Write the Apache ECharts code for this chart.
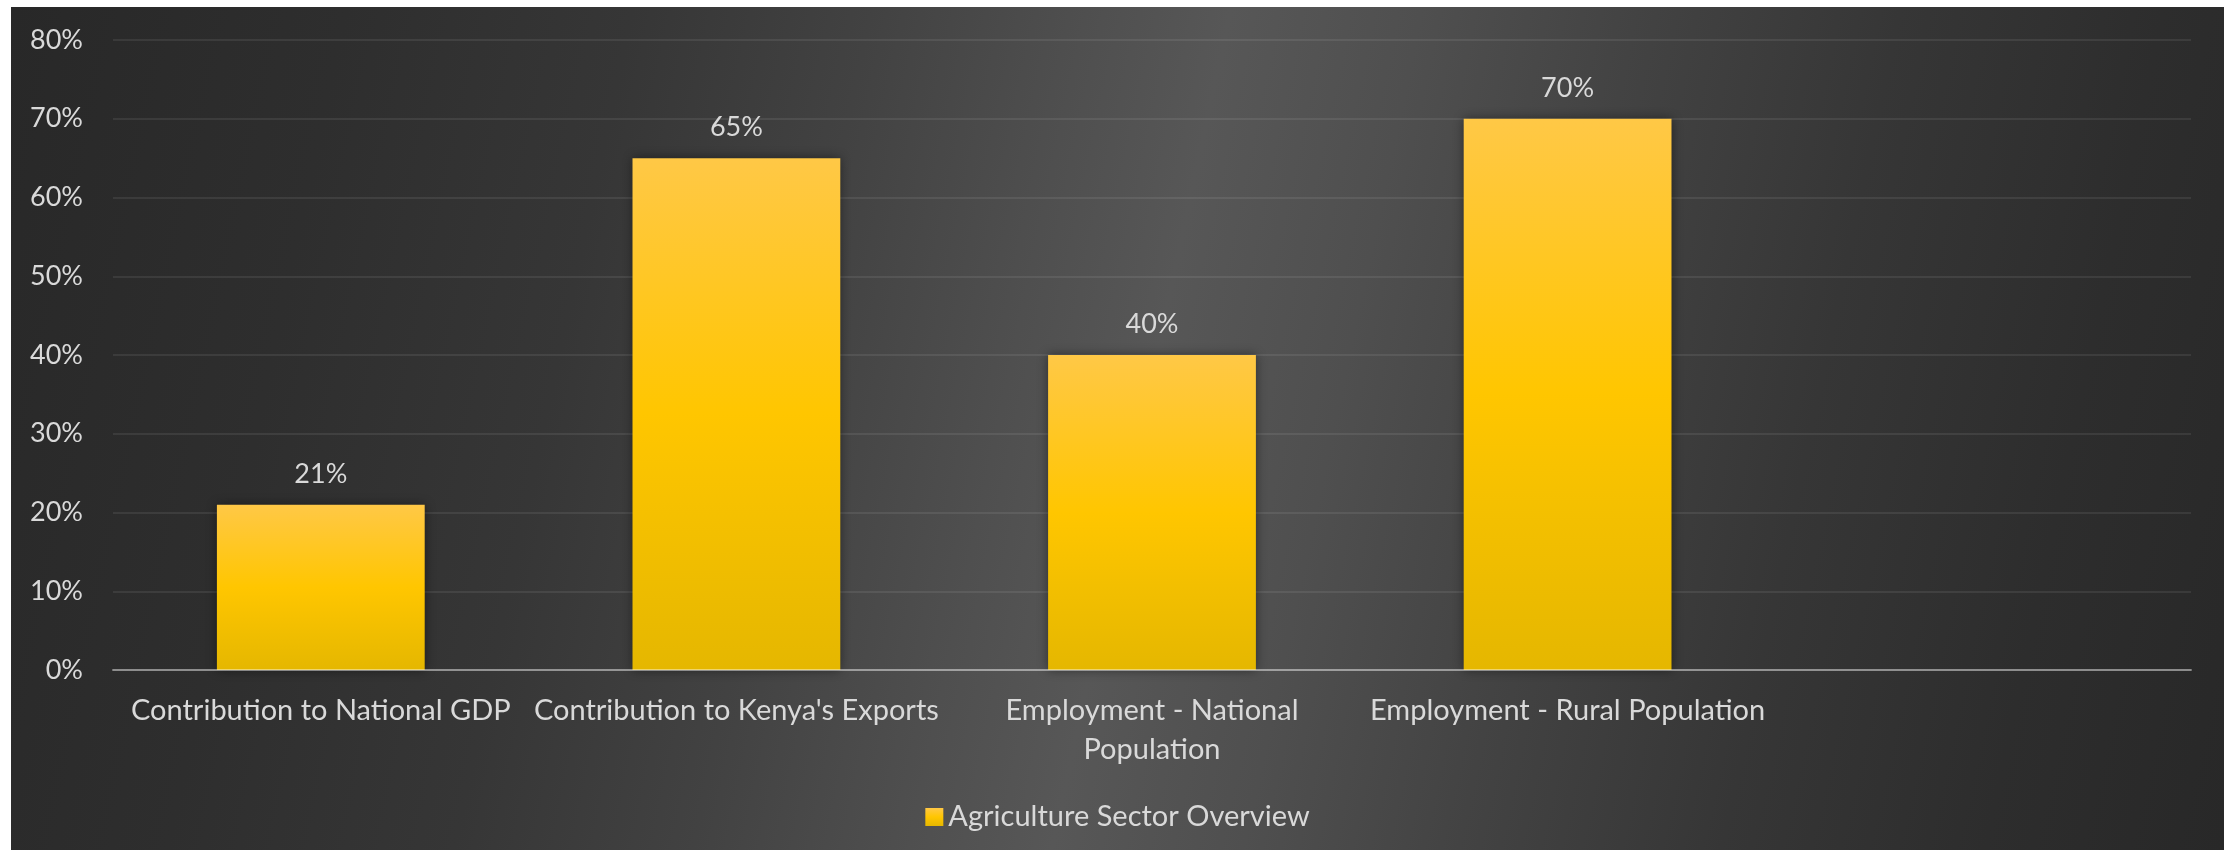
<!DOCTYPE html>
<html>
<head>
<meta charset="utf-8">
<title>Agriculture Sector Overview</title>
<script src="https://cdn.jsdelivr.net/npm/echarts@6/dist/echarts.min.js"></script>
<style>
  html, body { margin: 0; padding: 0; background: #ffffff; width: 2224px; height: 850px; overflow: hidden; }
  #chart {
    position: absolute; left: 11px; top: 7px; width: 2213px; height: 843px;
    background: linear-gradient(102deg, #282828 0%, #2e2e2e 14%, #363636 26%, #424242 36%, #4f4f4f 45%, #575757 51%, #4f4f4f 59%, #434343 68%, #363636 79%, #2d2d2d 90%, #282828 100%);
  }
</style>
</head>
<body>
<div id="chart"></div>
<script>
// Agriculture's share in Kenya's economy
const categories = [
  'Contribution to National GDP',
  "Contribution to Kenya's Exports",
  'Employment - National\nPopulation',
  'Employment - Rural Population',
  ''
];
const seriesName = 'Agriculture Sector Overview';
const values = [21, 65, 40, 70];
const yTicks = { min: 0, max: 80, step: 10 };

const FONT = 'Lato, "Noto Sans", sans-serif';
const TEXT = '#d9d9d9';

const barFill = {
  type: 'linear', x: 0, y: 0, x2: 0, y2: 1,
  colorStops: [
    { offset: 0, color: '#ffc846' },
    { offset: 0.5, color: '#ffc600' },
    { offset: 1, color: '#e5b700' }
  ]
};

const chart = echarts.init(document.getElementById('chart'), null, { renderer: 'canvas' });
chart.setOption({
  backgroundColor: 'transparent',
  animation: false,
  textStyle: { fontFamily: FONT },
  grid: { left: 102, right: 33, top: 33, bottom: 180, containLabel: false },
  legend: {
    data: [{ name: seriesName, icon: 'rect' }],
    left: 'center',
    top: 790,
    itemWidth: 18,
    itemHeight: 18,
    textStyle: { color: TEXT, fontSize: 29, fontFamily: FONT, lineHeight: 30 }
  },
  xAxis: {
    type: 'category',
    data: categories,
    z: 3,
    axisLine: { show: true, lineStyle: { color: 'rgba(255,255,255,0.42)', width: 2 } },
    axisTick: { show: false },
    axisLabel: {
      interval: 0, color: TEXT, fontSize: 29, fontFamily: FONT,
      lineHeight: 39, margin: 21, align: 'center'
    },
    splitLine: { show: false }
  },
  yAxis: {
    type: 'value',
    min: yTicks.min, max: yTicks.max, interval: yTicks.step,
    axisLine: { show: false },
    axisTick: { show: false },
    axisLabel: { color: TEXT, fontSize: 27, fontFamily: FONT, margin: 30, formatter: '{value}%' },
    splitLine: { lineStyle: { color: 'rgba(255,255,255,0.08)', width: 2 } }
  },
  series: [{
    name: seriesName,
    type: 'bar',
    data: values,
    barCategoryGap: '50%',
    itemStyle: {
      color: barFill,
      shadowBlur: 10,
      shadowColor: 'rgba(0,0,0,0.45)'
    },
    label: {
      show: true, position: 'top', distance: 17,
      color: TEXT, fontSize: 27, fontFamily: FONT, lineHeight: 27,
      formatter: '{c}%'
    }
  }]
});
</script>
</body>
</html>
